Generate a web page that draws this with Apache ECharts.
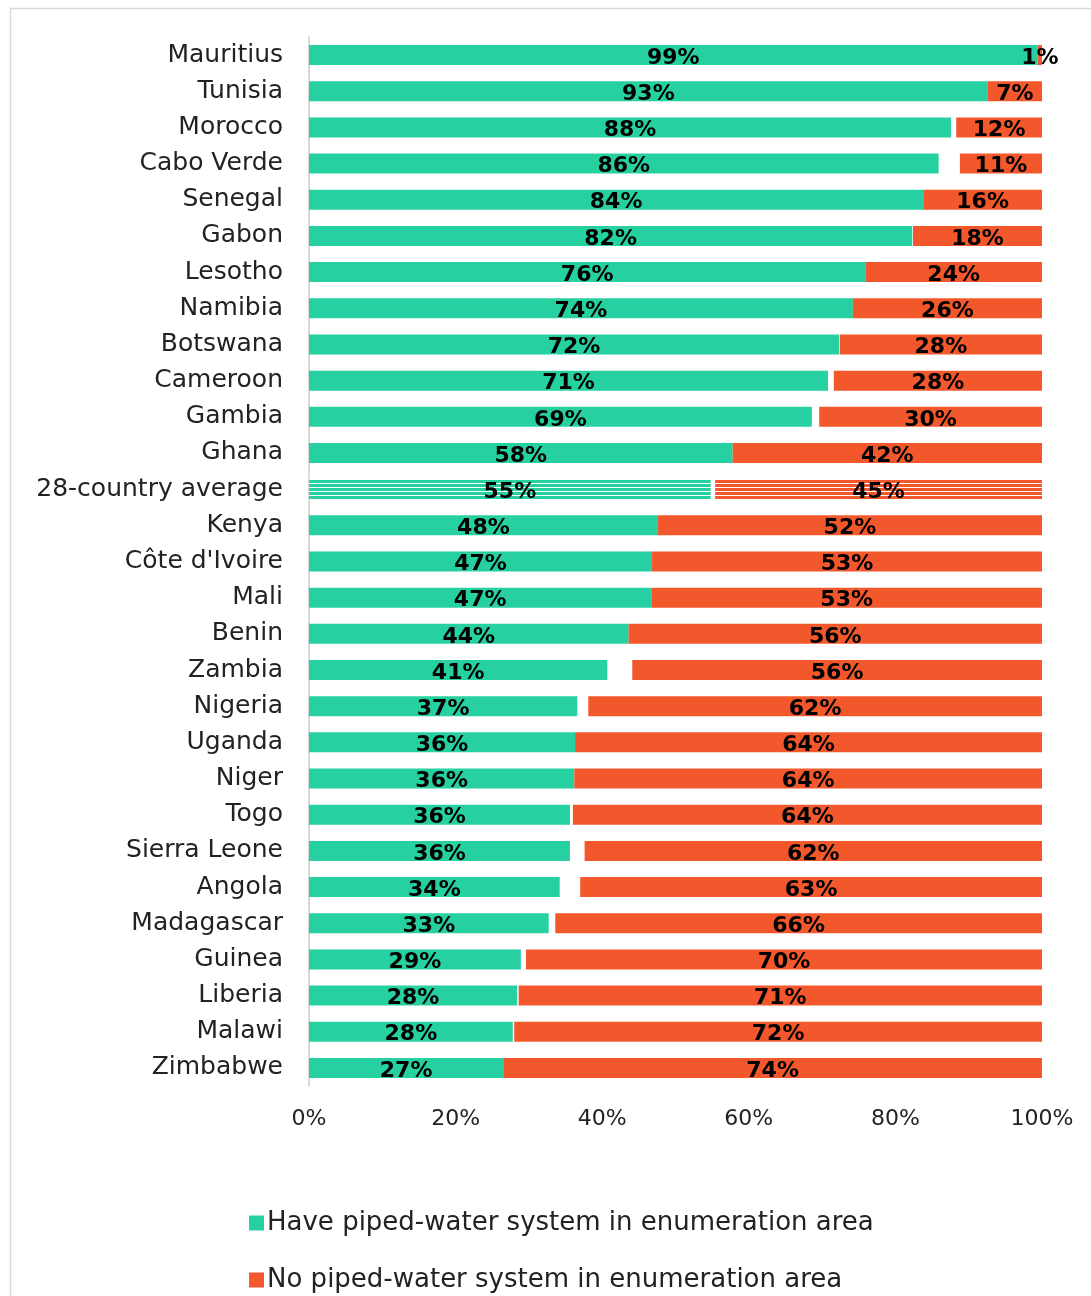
<!DOCTYPE html>
<html>
<head>
<meta charset="utf-8">
<script src="https://cdn.jsdelivr.net/npm/echarts@6/dist/echarts.min.js"></script>
<style>
html,body{margin:0;padding:0;background:#fff;}
#chart{width:1091px;height:1296px;}
</style>
</head>
<body>
<div id="chart"></div>
<script>
const categories = ["Mauritius","Tunisia","Morocco","Cabo Verde","Senegal","Gabon","Lesotho","Namibia","Botswana","Cameroon","Gambia","Ghana","28-country average","Kenya","Côte d'Ivoire","Mali","Benin","Zambia","Nigeria","Uganda","Niger","Togo","Sierra Leone","Angola","Madagascar","Guinea","Liberia","Malawi","Zimbabwe"];
const havePiped = [99.4,92.6,87.6,85.9,83.8,82.3,75.9,74.2,72.3,70.8,68.6,57.8,54.8,47.6,46.8,46.7,43.6,40.7,36.6,36.3,36.2,35.6,35.6,34.2,32.7,28.9,28.4,27.8,26.5];
const gapShare  = [0,0,0.7,2.9,0,0.1,0,0,0.1,0.8,1.0,0,0.6,0,0,0,0,3.4,1.5,0,0,0.4,2.0,2.8,0.9,0.7,0.2,0.2,0];
const noPiped   = [0.6,7.4,11.7,11.2,16.2,17.6,24.1,25.8,27.6,28.4,30.4,42.2,44.6,52.4,53.2,53.3,56.4,55.9,61.9,63.7,63.8,64.0,62.4,63.0,66.4,70.4,71.4,72.0,73.5];
const xTicks = [0,20,40,60,80,100];
const seriesNames = ['Have piped-water system in enumeration area','No piped-water system in enumeration area'];
const AVG = "28-country average";

const GREEN = '#26D0A1';
const RED = '#F2582B';

function stripe(color){
  const c = document.createElement('canvas');
  c.width = 4; c.height = 4;
  const g = c.getContext('2d');
  g.fillStyle = color; g.fillRect(0,0,4,3);
  g.fillStyle = '#ffffff'; g.fillRect(0,3,4,1);
  return {image: c, repeat: 'repeat'};
}

const cats = categories.slice().reverse();
function build(arr, color){
  return arr.slice().reverse().map((v,i)=>{
    if (cats[i] === AVG) return {value: v, itemStyle: {color: stripe(color)}};
    return v;
  });
}

const FONT = 'DejaVu Sans';
const labelStyle = {
  show: true, position: 'inside', color: '#000', fontFamily: FONT,
  fontWeight: 'bold', fontSize: 22, offset: [0, 3],
  formatter: p => Math.round(p.value) + '%'
};
function legendAt(name, top){
  return {
    orient: 'horizontal', left: 244, top: top,
    itemWidth: 15, itemHeight: 15, icon: 'rect',
    data: [name],
    textStyle: {fontSize: 26, color: '#222', fontFamily: FONT, padding: [0,0,0,-2]}
  };
}

const chart = echarts.init(document.getElementById('chart'));
chart.setOption({
  animation: false,
  textStyle: {fontFamily: FONT},
  graphic: [{type:'rect', shape:{x:10.5,y:8.5,width:1100,height:1300}, style:{fill:'none', stroke:'#d9d9d9', lineWidth:1.5}, silent:true}],
  grid: {left: 309, right: 49, top: 37, bottom: 210, containLabel: false},
  xAxis: {
    type: 'value', min: 0, max: 100, interval: 20,
    axisLabel: {formatter: v => xTicks.includes(v) ? v + '%' : '', color: '#222', fontSize: 22, fontFamily: FONT, margin: 22},
    axisLine: {show: false}, axisTick: {show: false}, splitLine: {show: false}
  },
  yAxis: {
    type: 'category', data: cats,
    axisLabel: {color: '#222', fontSize: 25, fontFamily: FONT, margin: 26, padding: [4,0,0,0]},
    axisLine: {show: true, lineStyle: {color: '#d9d9d9', width: 2}},
    axisTick: {show: false}
  },
  legend: [legendAt(seriesNames[0], 1205), legendAt(seriesNames[1], 1262)],
  series: [
    {name: seriesNames[0], type: 'bar', stack: 't', barWidth: 20,
     itemStyle: {color: GREEN}, label: labelStyle, data: build(havePiped, GREEN)},
    {name: 'gap', type: 'bar', stack: 't', barWidth: 20, silent: true,
     itemStyle: {color: 'rgba(0,0,0,0)'}, label: {show: false}, data: gapShare.slice().reverse()},
    {name: seriesNames[1], type: 'bar', stack: 't', barWidth: 20,
     itemStyle: {color: RED}, label: labelStyle, data: build(noPiped, RED)}
  ]
});
</script>
</body>
</html>
